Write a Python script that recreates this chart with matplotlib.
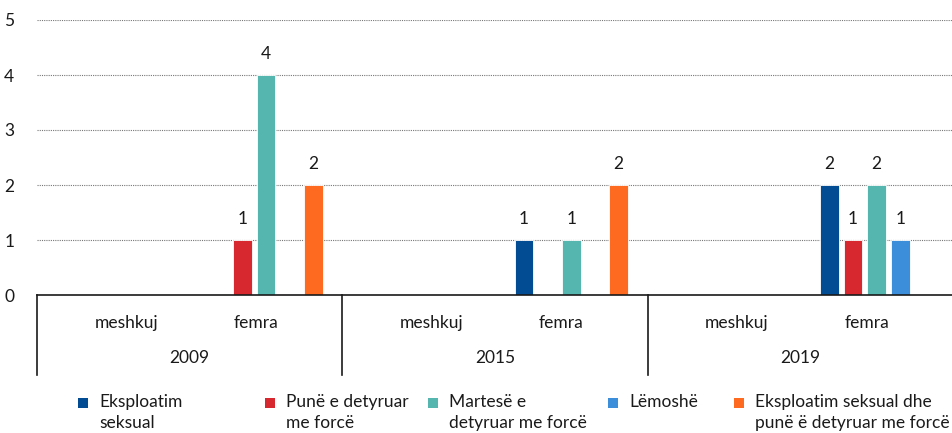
import numpy as np
import matplotlib
matplotlib.use("Agg")
import matplotlib.pyplot as plt
from matplotlib.patches import Rectangle
import matplotlib.transforms as mtransforms

plt.rcParams['font.family'] = ['Lato', 'DejaVu Sans']

years = ["2009", "2015", "2019"]
sexes = ["meshkuj", "femra"]
series_names = ["Eksploatim\nseksual", "Punë e detyruar\nme forcë", "Martesë e\ndetyruar me forcë",
                "Lëmoshë", "Eksploatim seksual dhe\npunë ë detyruar me forcë"]
colors = ["#024C94", "#D7282F", "#55B6AF", "#3C8DDA", "#FF6A21"]
# values per category: 2009 meshkuj, 2009 femra, 2015 meshkuj, 2015 femra, 2019 meshkuj, 2019 femra
eksploatim = [0, 0, 0, 1, 0, 2]
pune = [0, 1, 0, 0, 0, 1]
martese = [0, 4, 0, 1, 0, 2]
lemoshe = [0, 0, 0, 0, 0, 1]
eksp_pune = [0, 2, 0, 2, 0, 0]
values = [eksploatim, pune, martese, lemoshe, eksp_pune]
yticks = [0, 1, 2, 3, 4, 5]

W, H = 953, 433
fig = plt.figure(figsize=(W / 100, H / 100), dpi=100)
ax = fig.add_axes([37 / W, 1 - 295 / H, 1 - 37 / W, 275 / H])

ncat = len(years) * len(sexes)
x = np.arange(ncat)
step = 0.155
bw = 0.122
for i, (vals, c) in enumerate(zip(values, colors)):
    xs = x + (i - 2) * step
    v = np.array(vals, dtype=float)
    ax.bar(xs, v, width=bw, color=c, edgecolor="white", linewidth=0.6, zorder=3)
    for xx, vv in zip(xs, v):
        if vv > 0:
            ax.text(xx, vv + 0.24, f"{int(vv)}", ha="center", va="bottom", fontsize=12.5, color="#1a1a1a")

ax.set_xlim(-0.5, ncat - 0.5)
ax.set_ylim(0, 5)
ax.set_yticks(yticks)
ax.set_yticklabels([str(t) for t in yticks], fontsize=12.5, color="#1a1a1a")
ax.tick_params(axis="y", length=0, pad=20)
for lab in ax.get_yticklabels():
    lab.set_horizontalalignment("center")
ax.tick_params(axis="x", length=0, labelbottom=False)
ax.grid(axis="y", color="#777777", linestyle=(0, (1, 1)), linewidth=0.8, zorder=0)
ax.set_axisbelow(True)
for s in ["left", "right", "top"]:
    ax.spines[s].set_visible(False)
ax.spines["bottom"].set_color("#1a1a1a")
ax.spines["bottom"].set_linewidth(1.2)
ax.spines["bottom"].set_zorder(4)

trans = mtransforms.blended_transform_factory(ax.transData, ax.transAxes)
# group dividers
for b in np.arange(-0.5, ncat, 2):
    ax.plot([b, b], [0, -0.29], transform=trans, color="#1a1a1a", linewidth=1.2, clip_on=False)
# sub labels
offs = [13, -10]
for ci in range(ncat):
    t = ax.text(ci, -0.102, sexes[ci % 2], transform=trans, ha="center", va="center",
                fontsize=12.5, color="#1a1a1a")
    t.set_transform(trans + mtransforms.ScaledTranslation(offs[ci % 2] / 100, 0, fig.dpi_scale_trans))
for gi, yr in enumerate(years):
    ax.text(gi * 2 + 0.5, -0.23, yr, transform=trans, ha="center", va="center",
            fontsize=12.5, color="#1a1a1a")

# legend
leg_x = [78, 265, 428, 608, 734]
sq = 10
for lx, name, c in zip(leg_x, series_names, colors):
    fig.patches.append(Rectangle((lx / W, 1 - 408 / H), sq / W, sq / H, transform=fig.transFigure,
                                 facecolor=c, edgecolor="none"))
    fig.text((lx + 21) / W, 1 - 394 / H, name, ha="left", va="top", fontsize=12.5,
             color="#1a1a1a", linespacing=1.35)

fig.savefig("out.png", dpi=100)
